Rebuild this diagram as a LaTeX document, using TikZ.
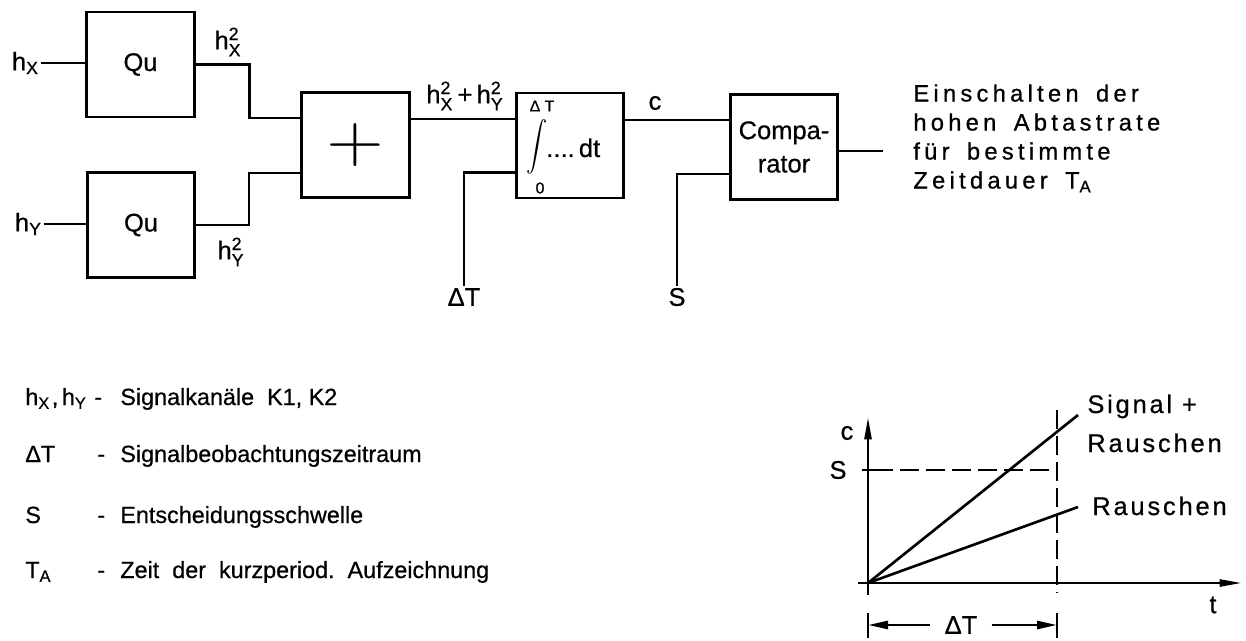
\documentclass[tikz,border=0pt]{standalone}
\usepackage{amsmath}
\usepackage{graphicx}
\usepackage{fontspec}
\setmainfont[FakeBold=0.6]{Liberation Sans}
\newfontfamily\spaced[LetterSpace=18,WordSpace=1.6,FakeBold=0.7]{Liberation Sans}
\newfontfamily\lightspaced[LetterSpace=11,FakeBold=0.6]{Liberation Sans}
\usetikzlibrary{arrows.meta}

\newcommand{\hsq}[1]{h$_{\text{#1}}^{\text{2}}$}

\tikzset{
  blk/.style={draw, line width=1.5pt, minimum width=2.15cm, minimum height=2.1cm, font=\fontsize{14.5}{19}\selectfont},
  wire/.style={line width=1.5pt},
  lbl/.style={font=\fontsize{14.5}{16}\selectfont, inner sep=1pt},
  leg/.style={font=\fontsize{13.3}{16}\selectfont, anchor=base west, inner sep=0pt},
  grlbl/.style={font=\lightspaced\fontsize{14.5}{16}\selectfont, anchor=base west, inner sep=0pt},
  axisarrow/.style={line width=1.5pt, -{Triangle[length=4.5mm,width=1.4mm]}},
  dimarrow/.style={line width=1.5pt, -{Triangle[length=4mm,width=1.6mm]}},
  guide/.style={line width=1.5pt, dash pattern=on 0.38cm off 0.14cm}
}

\begin{document}
\begin{tikzpicture}[x=0.02cm, y=-0.02cm]
  \useasboundingbox (0,0) rectangle (1246,641);

  % blocks
  \node[blk] (qux) at (140.5,64.5) {Qu};
  \node[blk] (quy) at (141,225) {Qu};
  \node[blk] (plus) at (355.5,145) {\scalebox{3}[2.6]{$+$}};
  \node[blk] (int) at (570,145.5) {};
  \node[blk, align=center] (cmp) at (784,147) {Compa-\\rator};

  % integrator
  \node[font=\fontsize{9}{9}\selectfont, inner sep=0pt] (intup) at (542,106) {Δ T};
  \node[inner sep=0pt] (intsign) at (537,147) {\scalebox{1.2}[1.4]{$\displaystyle\int$}};
  \node[lbl, anchor=base west, inner sep=0pt] (intdt) at (546,157) {....\,dt};
  \node[font=\fontsize{9}{9}\selectfont, inner sep=0pt] (intlo) at (540,188) {0};

  % labels
  \node[lbl, anchor=east] (hxl) at (41,63) {h$_{\text{X}}$};
  \node[lbl, anchor=east] (hyl) at (44,224) {h$_{\text{Y}}$};
  \node[lbl] (hxsq) at (228,42) {\hsq{X}};
  \node[lbl] (hysq) at (231,252) {\hsq{Y}};
  \node[lbl] (suml) at (465,96) {\hsq{X}\,+\,\hsq{Y}};
  \node[lbl] (cl) at (655,103) {c};
  \node[lbl] (dtl) at (464,297) {ΔT};
  \node[lbl] (sl) at (677,297) {S};

  % connections
  \draw[wire] (hxl.east) -- (qux.west |- hxl.east);
  \draw[wire] (hyl.east) -- (quy.west |- hyl.east);
  \draw[wire] (qux.east) -- ++(54,0) |- ([yshift=0.54cm]plus.west);
  \draw[wire] (quy.east) -- ++(53,0) |- ([yshift=-0.56cm]plus.west);
  \draw[wire] ([yshift=0.52cm]plus.east) -- ([yshift=0.52cm]plus.east -| int.west);
  \draw[wire] ([yshift=-0.54cm]int.west) -| (dtl.north);
  \draw[wire] ([yshift=0.51cm]int.east) -- ([yshift=0.51cm]int.east -| cmp.west);
  \draw[wire] ([yshift=-0.54cm]cmp.west) -| (sl.north);
  \draw[wire] ([yshift=-0.08cm]cmp.east) -- ++(44,0);

  \node[anchor=north west, align=left, inner sep=0pt, font=\spaced\fontsize{13.5}{16.5}\selectfont] (note) at (913,84)
    {Einschalten der\\hohen Abtastrate\\für bestimmte\\Zeitdauer T\textsubscript{A}};

  % legend
  \node[leg] (k1) at (25,405) {h$_{\text{X}}$\hspace{1pt},\hspace{2pt}h$_{\text{Y}}$};
  \node[leg] (k1d) at (94,405) {-};
  \node[leg] (k1t) at (120,405) {Signalkanäle\ \ K1, K2};
  \node[leg] (k2) at (25,462) {ΔT};
  \node[leg] (k2d) at (97,462) {-};
  \node[leg] (k2t) at (120,462) {Signalbeobachtungszeitraum};
  \node[leg] (k3) at (25,523) {S};
  \node[leg] (k3d) at (97,523) {-};
  \node[leg] (k3t) at (120,523) {Entscheidungsschwelle};
  \node[leg] (k4) at (25,578) {T\textsubscript{A}};
  \node[leg] (k4d) at (97,578) {-};
  \node[leg] (k4t) at (120,578) {Zeit\ \ der\ \ kurzperiod.\ \ Aufzeichnung};

  % graph
  \coordinate (o) at (868,583);
  \coordinate (tend) at (1057,583);
  \draw[axisarrow] (868,595) -- (868,417);
  \draw[axisarrow] (858,583) -- (1242,583);
  \node[lbl] (gc) at (847,433) {c};
  \node[lbl] (gs) at (838,470) {S};
  \draw[wire] (862,470) -- (874,470);
  \draw[guide] (874,470) -- (1057,470);
  \draw[guide] (1057,410) -- (1057,593);
  \draw[wire] (1057,462) -- (1057,478);
  \draw[wire] (o) -- (1078,415);
  \draw[wire] (o) -- (1078,507);
  \node[grlbl] (gsr1) at (1087,413) {Signal +};
  \node[grlbl] (gsr2) at (1087,452) {Rauschen};
  \node[grlbl] (gr) at (1092,515) {Rauschen};
  \node[lbl] (gt) at (1213,605) {t};
  \draw[wire] (868,613) -- (868,638);
  \draw[wire] (1057,613) -- (1057,638);
  \node[lbl, inner xsep=8pt] (gdt) at (961,625) {ΔT};
  \draw[dimarrow] (gdt.west) -- (gdt.west -| o);
  \draw[dimarrow] (gdt.east) -- (gdt.east -| tend);
\end{tikzpicture}
\end{document}
